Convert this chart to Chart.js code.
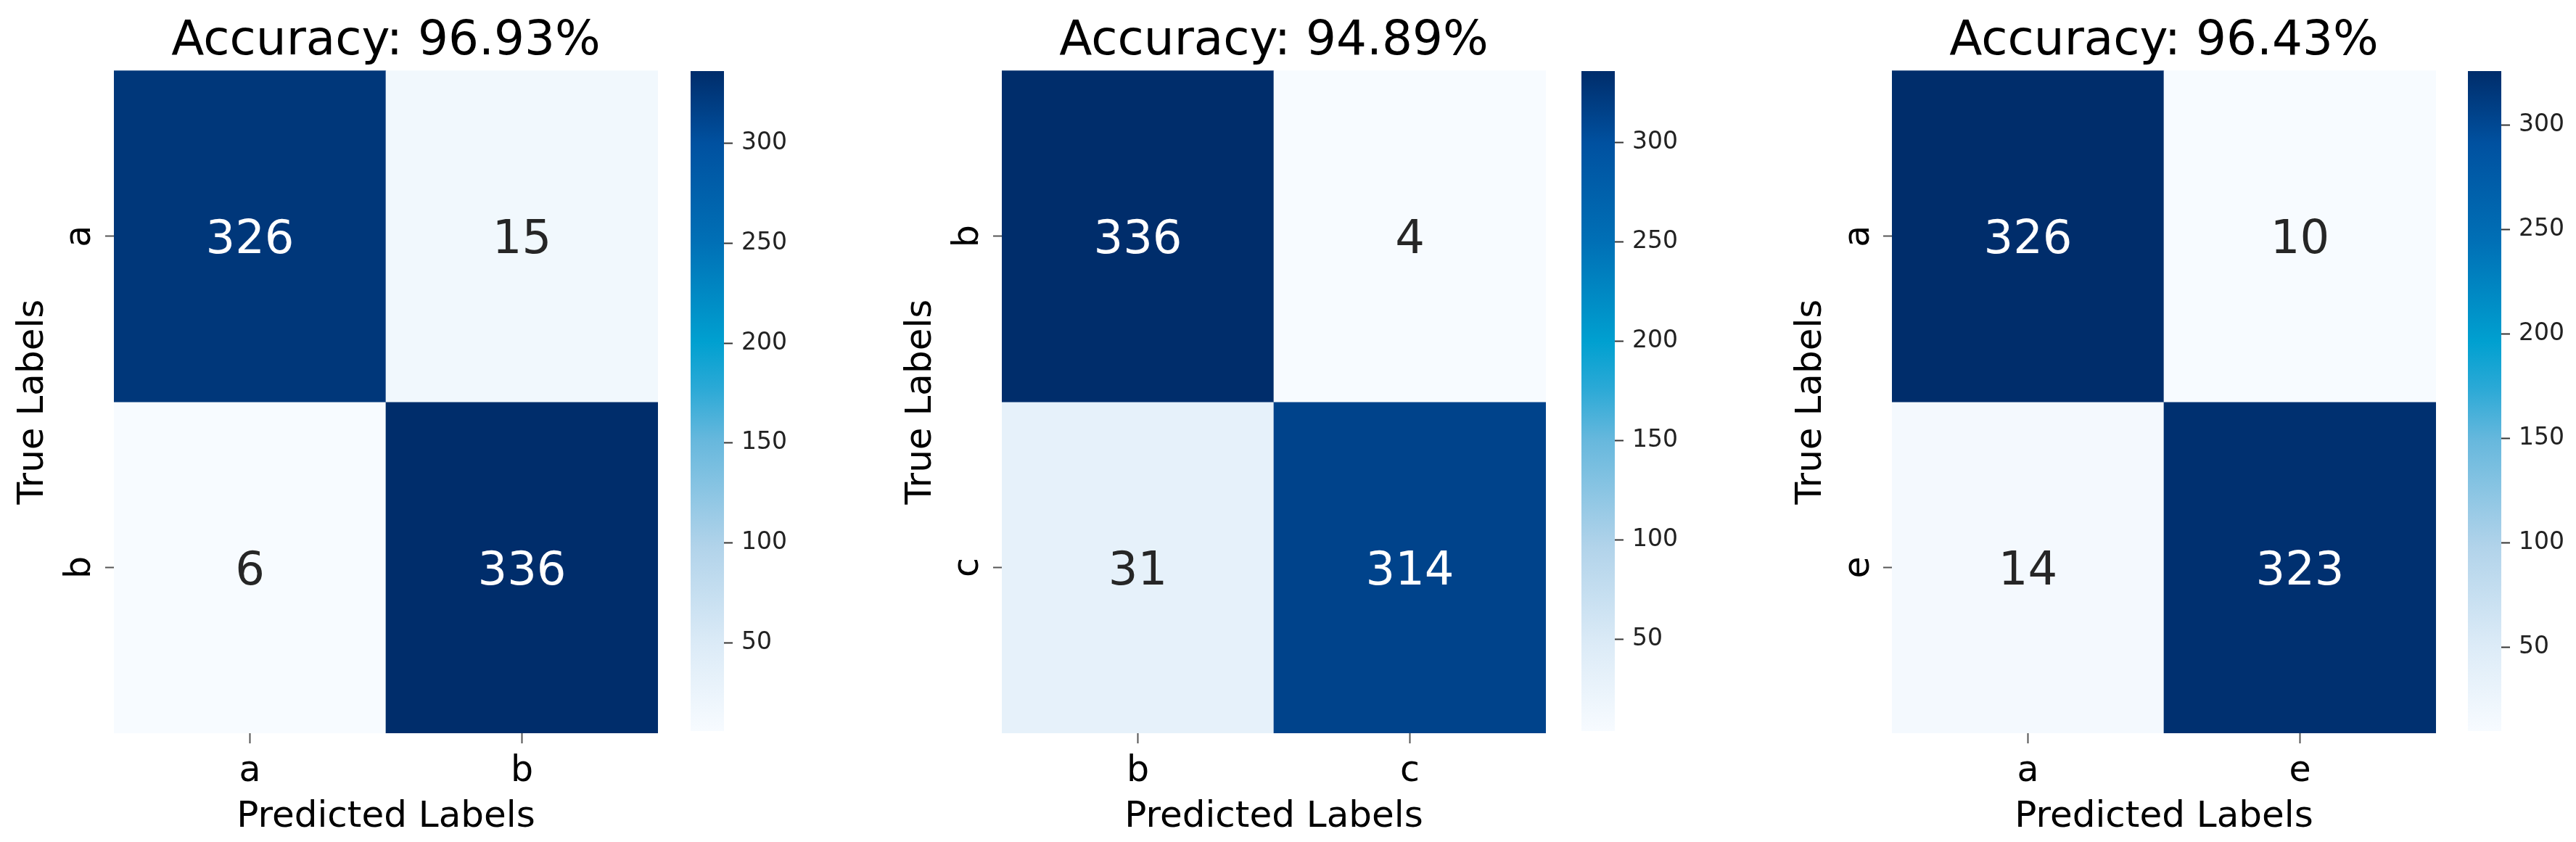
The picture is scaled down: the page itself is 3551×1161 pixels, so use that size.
<!DOCTYPE html>
<html>
<head>
<meta charset="utf-8">
<script src="https://cdn.jsdelivr.net/npm/chart.js@4.4.1/dist/chart.umd.min.js"></script>
<style>
  html, body { margin: 0; padding: 0; background: #fff; }
  #page { position: relative; width: 3551px; height: 1161px; overflow: hidden; background: #fff; }
  canvas { position: absolute; top: 0; }
</style>
</head>
<body>
<div id="page"></div>
<script>
// chart data
const panel_titles = ['Accuracy: 96.93%', 'Accuracy: 94.89%', 'Accuracy: 96.43%'];
const class_labels = [['a', 'b'], ['b', 'c'], ['a', 'e']];
const matrix_ab = [[326, 15], [6, 336]];
const matrix_bc = [[336, 4], [31, 314]];
const matrix_ae = [[326, 10], [14, 323]];
const matrices = [matrix_ab, matrix_bc, matrix_ae];
const cbar_ticks = [50, 100, 150, 200, 250, 300];

// page layout (pixels)
const heat_left = [157, 1381, 2608];
const cbar_left = [952, 2180, 3402];
const axis_w = 157, heat_w = 750, cbar_w = 46, cbar_canvas_w = 149;
const H = 1161;

// Blues-like colour map, as it looks in the picture
const cmap_pos = [0, 0.13, 0.28, 0.44, 0.52, 0.59, 0.74, 0.89, 1];
const cmap_col = ['#f7fbff', '#dcebf7', '#b1d3ea', '#67b8dd', '#2aa9d6', '#00a0d0', '#0070b6', '#0051a0', '#002d6b'];

Chart.defaults.font.family = "'DejaVu Sans', sans-serif";
Chart.defaults.color = '#000';

function hex_rgb(h) {
    return [parseInt(h.slice(1, 3), 16), parseInt(h.slice(3, 5), 16), parseInt(h.slice(5, 7), 16)];
}

function blues(t) {
    t = Math.max(0, Math.min(1, t));
    let i = 0;
    while (i < cmap_pos.length - 2 && t > cmap_pos[i + 1]) i++;
    const f = (t - cmap_pos[i]) / (cmap_pos[i + 1] - cmap_pos[i]);
    const a = hex_rgb(cmap_col[i]), b = hex_rgb(cmap_col[i + 1]);
    return a.map((c, k) => Math.round(c + (b[k] - c) * f));
}

function rgb_str(c) {
    return 'rgb(' + c[0] + ', ' + c[1] + ', ' + c[2] + ')';
}

function text_color(c) {
    const lin = c.map(v => {
        v /= 255;
        return v <= 0.03928 ? v / 12.92 : Math.pow((v + 0.055) / 1.055, 2.4);
    });
    const lum = 0.2126 * lin[0] + 0.7152 * lin[1] + 0.0722 * lin[2];
    return lum > 0.408 ? '#262626' : '#ffffff';
}

function add_canvas(id, left, width) {
    const c = document.createElement('canvas');
    c.id = id;
    c.width = width;
    c.height = H;
    c.style.left = left + 'px';
    document.getElementById('page').appendChild(c);
    return c;
}

const cell_text = {
    id: 'cell_text',
    afterDatasetsDraw(chart) {
        const ctx = chart.ctx;
        ctx.save();
        ctx.font = "64px 'DejaVu Sans'";
        ctx.textAlign = 'center';
        ctx.textBaseline = 'alphabetic';
        chart.data.datasets.forEach((ds, i) => {
            chart.getDatasetMeta(i).data.forEach((bar, j) => {
                ctx.fillStyle = ds.text_colors[j];
                ctx.fillText(String(ds.cells[j]), bar.x, (bar.y + bar.base) / 2 + 23);
            });
        });
        ctx.restore();
    }
};

function heatmap_chart(idx) {
    const labels = class_labels[idx];
    const values = matrices[idx];
    const flat = values.flat();
    const vmin = Math.min(...flat), vmax = Math.max(...flat);
    const canvas = add_canvas('heat_' + idx, heat_left[idx] - axis_w, axis_w + heat_w);

    const datasets = values.map((row, r) => {
        const cols = row.map(v => blues((v - vmin) / (vmax - vmin)));
        return {
            label: labels[r],
            data: row.map(() => [r, r + 1]),
            cells: row,
            text_colors: cols.map(text_color),
            backgroundColor: cols.map(rgb_str),
            borderWidth: 0,
            barPercentage: 1,
            categoryPercentage: 1,
            grouped: false,
        };
    });

    new Chart(canvas, {
        type: 'bar',
        data: { labels: labels, datasets: datasets },
        plugins: [cell_text],
        options: {
            responsive: false,
            animation: false,
            layout: { padding: 0 },
            plugins: {
                legend: { display: false },
                tooltip: { enabled: false },
                title: {
                    display: true,
                    text: panel_titles[idx],
                    fullSize: false,
                    color: '#000',
                    font: { size: 66, weight: 'normal' },
                    padding: { top: 18, bottom: 0 },
                },
            },
            scales: {
                x: {
                    offset: true,
                    grid: { display: true, offset: false, drawOnChartArea: false, tickLength: 14, tickWidth: 2, tickColor: '#555' },
                    border: { display: false },
                    ticks: { font: { size: 49 }, color: '#000', padding: 10 },
                    title: { display: true, text: 'Predicted Labels', color: '#000', font: { size: 50 }, padding: { top: 0, bottom: 4 } },
                    afterFit: (s) => { s.height = H - 1011; },
                },
                y: {
                    type: 'linear',
                    min: 0,
                    max: labels.length,
                    reverse: true,
                    afterBuildTicks: (s) => { s.ticks = labels.map((_, i) => ({ value: i + 0.5 })); },
                    grid: { display: true, drawOnChartArea: false, tickLength: 12, tickWidth: 2, tickColor: '#555' },
                    border: { display: false },
                    ticks: {
                        callback: (v) => labels[Math.floor(v)],
                        minRotation: 90,
                        maxRotation: 90,
                        crossAlign: 'center',
                        autoSkip: false,
                        font: { size: 49 },
                        color: '#000',
                        padding: 18,
                    },
                    title: { display: true, text: 'True Labels', color: '#000', font: { size: 50 }, padding: { top: 16, bottom: 0 } },
                    afterFit: (s) => { s.width = axis_w; },
                },
            },
        },
    });
}

function colorbar_chart(idx) {
    const flat = matrices[idx].flat();
    const vmin = Math.min(...flat), vmax = Math.max(...flat);
    const canvas = add_canvas('cbar_' + idx, cbar_left[idx], cbar_canvas_w);

    new Chart(canvas, {
        type: 'bar',
        data: {
            labels: [''],
            datasets: [{
                data: [[vmin, vmax]],
                backgroundColor: (c) => {
                    const area = c.chart.chartArea;
                    if (!area) return '#ffffff';
                    const g = c.chart.ctx.createLinearGradient(0, area.bottom, 0, area.top);
                    cmap_pos.forEach((p, k) => g.addColorStop(p, cmap_col[k]));
                    return g;
                },
                borderWidth: 0,
                barPercentage: 1,
                categoryPercentage: 1,
            }],
        },
        options: {
            responsive: false,
            animation: false,
            layout: { padding: { top: 98, bottom: H - 1008, left: 0, right: 0 } },
            plugins: { legend: { display: false }, tooltip: { enabled: false } },
            scales: {
                x: { display: false },
                y: {
                    position: 'right',
                    min: vmin,
                    max: vmax,
                    afterBuildTicks: (s) => { s.ticks = cbar_ticks.map(v => ({ value: v })); },
                    grid: { display: true, drawOnChartArea: false, tickLength: 12, tickWidth: 2, tickColor: '#333' },
                    border: { display: false },
                    ticks: { font: { size: 33 }, color: '#222', padding: 12 },
                    afterFit: (s) => { s.width = cbar_canvas_w - cbar_w; },
                },
            },
        },
    });
}

for (let i = 0; i < matrices.length; i++) {
    heatmap_chart(i);
    colorbar_chart(i);
}
</script>
</body>
</html>
